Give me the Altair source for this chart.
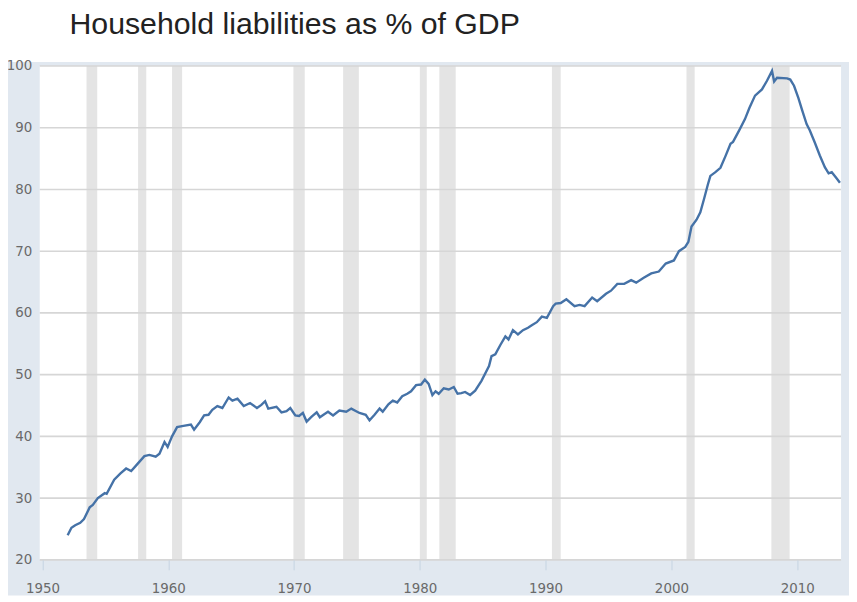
import altair as alt
import pandas as pd

TITLE = "Household liabilities as % of GDP"

YEARS = [
    1952.0, 1952.3, 1952.6, 1953.0, 1953.3, 1953.75, 1954.0, 1954.4, 1954.95, 1955.1,
    1955.7, 1956.2, 1956.65, 1957.05, 1957.45, 1958.1, 1958.5, 1959.0, 1959.3, 1959.7,
    1959.95, 1960.3, 1960.7, 1961.2, 1961.8, 1962.05, 1962.5, 1962.85, 1963.2, 1963.5,
    1963.9, 1964.3, 1964.8, 1965.1, 1965.5, 1966.0, 1966.5, 1967.05, 1967.4, 1967.7,
    1967.95, 1968.6, 1969.0, 1969.4, 1969.7, 1970.1, 1970.4, 1970.7, 1971.0, 1971.4,
    1971.8, 1972.05, 1972.4, 1972.7, 1973.1, 1973.6, 1974.15, 1974.55, 1975.2, 1975.7,
    1976.0, 1976.4, 1976.8, 1977.05, 1977.5, 1977.85, 1978.2, 1978.6, 1979.0, 1979.3,
    1979.7, 1980.1, 1980.4, 1980.7, 1981.0, 1981.25, 1981.5, 1981.9, 1982.3, 1982.7,
    1983.0, 1983.3, 1983.6, 1984.0, 1984.4, 1984.9, 1985.5, 1985.7, 1986.0, 1986.4,
    1986.8, 1987.05, 1987.4, 1987.8, 1988.2, 1988.6, 1988.9, 1989.3, 1989.7, 1990.1,
    1990.6, 1990.8, 1991.2, 1991.65, 1992.3, 1992.7, 1993.1, 1993.7, 1994.1, 1994.8,
    1995.2, 1995.7, 1996.25, 1996.8, 1997.2, 1997.8, 1998.4, 1999.0, 1999.55, 2000.2,
    2000.6, 2001.1, 2001.35, 2001.6, 2002.0, 2002.3, 2002.6, 2002.9, 2003.1, 2003.5,
    2003.9, 2004.3, 2004.7, 2004.9, 2005.4, 2005.85, 2006.2, 2006.65, 2007.2, 2007.6,
    2008.0, 2008.17, 2008.4, 2009.2, 2009.45, 2009.75, 2010.1, 2010.4, 2010.75, 2011.0,
    2011.4, 2011.8, 2012.2, 2012.5, 2012.75, 2013.1, 2013.4,
]

VALUES = [
    24.0, 25.2, 25.6, 26.0, 26.6, 28.5, 28.9, 30.0, 30.8, 30.7,
    33.0, 34.0, 34.8, 34.4, 35.3, 36.8, 37.0, 36.7, 37.2, 39.1,
    38.3, 40.0, 41.5, 41.7, 41.9, 41.1, 42.3, 43.4, 43.5, 44.3,
    44.9, 44.6, 46.3, 45.8, 46.1, 44.9, 45.4, 44.6, 45.1, 45.7,
    44.5, 44.8, 43.9, 44.1, 44.6, 43.4, 43.3, 43.8, 42.4, 43.2,
    43.9, 43.1, 43.6, 44.0, 43.4, 44.2, 44.0, 44.5, 43.8, 43.5,
    42.6, 43.5, 44.5, 44.0, 45.2, 45.8, 45.5, 46.5, 46.9, 47.3,
    48.3, 48.4, 49.2, 48.5, 46.7, 47.3, 46.9, 47.8, 47.6, 48.0,
    46.9, 47.0, 47.2, 46.7, 47.4, 49.0, 51.4, 53.0, 53.3, 54.8,
    56.2, 55.7, 57.2, 56.5, 57.2, 57.6, 58.0, 58.5, 59.4, 59.2,
    61.1, 61.5, 61.6, 62.2, 61.1, 61.3, 61.1, 62.5, 61.9, 63.1,
    63.6, 64.7, 64.7, 65.3, 64.9, 65.7, 66.4, 66.7, 68.0, 68.5,
    70.0, 70.7, 71.5, 74.0, 75.1, 76.3, 78.5, 80.8, 82.2, 82.8,
    83.5, 85.4, 87.4, 87.7, 89.6, 91.4, 93.2, 95.2, 96.2, 97.6,
    99.2, 97.5, 98.1, 98.0, 97.8, 96.8, 94.8, 92.8, 90.6, 89.6,
    87.6, 85.5, 83.6, 82.6, 82.8, 81.9, 81.1,
]

REC_START = [1953.5, 1957.6, 1960.3, 1969.95, 1973.9, 1980.0, 1981.55, 1990.5, 2001.2, 2007.95]
REC_END = [1954.35, 1958.25, 1961.1, 1970.85, 1975.15, 1980.55, 1982.85, 1991.2, 2001.85, 2009.4]

X_TICKS = [1950, 1960, 1970, 1980, 1990, 2000, 2010]
Y_TICKS = [20, 30, 40, 50, 60, 70, 80, 90, 100]
X_DOMAIN = [1949.78, 2013.49]
Y_DOMAIN = [20, 100]

W, H = 808, 498

series = pd.DataFrame({"year": YEARS, "value": VALUES})
rec = pd.DataFrame({"start": REC_START, "end": REC_END})
grid = pd.DataFrame({"v": Y_TICKS})
one = pd.DataFrame({"k": [0]})

xs = alt.Scale(domain=X_DOMAIN, nice=False, zero=False)
ys = alt.Scale(domain=Y_DOMAIN, nice=False, zero=False)

LABEL_FONT = "DejaVu Sans"
xaxis = alt.Axis(values=X_TICKS, format="d", grid=False, domain=False, ticks=True,
                 tickColor="#c5d3e2", tickSize=10, tickWidth=1, labelFont=LABEL_FONT,
                 labelFontSize=13.5, labelColor="#6a6a6a", labelPadding=12, title=None,
                 labelFlush=False, labelOverlap=False, zindex=1)
yaxis = alt.Axis(values=Y_TICKS, grid=False, domain=False, ticks=False, tickSize=0,
                 labelFont=LABEL_FONT, labelFontSize=13.5, labelColor="#6a6a6a",
                 labelPadding=8, title=None, labelFlush=False, labelOverlap=False, zindex=1)

frame = alt.Chart(one).mark_rect(color="#e1e8f0").encode(
    x=alt.value(-32), x2=alt.value(W + 8), y=alt.value(-4), y2=alt.value(H + 36)
)
plotbg = alt.Chart(one).mark_rect(color="#ffffff").encode(
    x=alt.value(0), x2=alt.value(W), y=alt.value(0), y2=alt.value(H)
)
bars = alt.Chart(rec).mark_rect(color="#e4e4e4").encode(
    x=alt.X("start:Q", scale=xs, axis=xaxis),
    x2="end:Q",
    y=alt.value(0),
    y2=alt.value(H),
)
rules = alt.Chart(grid).mark_rule(color="#d6d6d6", strokeWidth=1.6).encode(
    y=alt.Y("v:Q", scale=ys, axis=yaxis),
    x=alt.value(0),
    x2=alt.value(W),
)
line = alt.Chart(series).mark_line(color="#4572a7", strokeWidth=2.4).encode(
    x=alt.X("year:Q", scale=xs, axis=xaxis),
    y=alt.Y("value:Q", scale=ys, axis=yaxis),
)

chart = alt.layer(frame, plotbg, bars, rules, line).properties(
    width=W,
    height=H,
    autosize=alt.AutoSizeParams(type="none"),
    padding={"left": 32, "top": 56, "right": 8, "bottom": 36},
    background="white",
    title=alt.TitleParams(
        TITLE, anchor="start", frame="group", dx=30, offset=19,
        font="Liberation Sans", fontSize=30.5, fontWeight="normal", color="#222222",
    ),
).configure_view(stroke=None)

chart.save("out.html", embed_options={"renderer": "svg", "actions": False})
